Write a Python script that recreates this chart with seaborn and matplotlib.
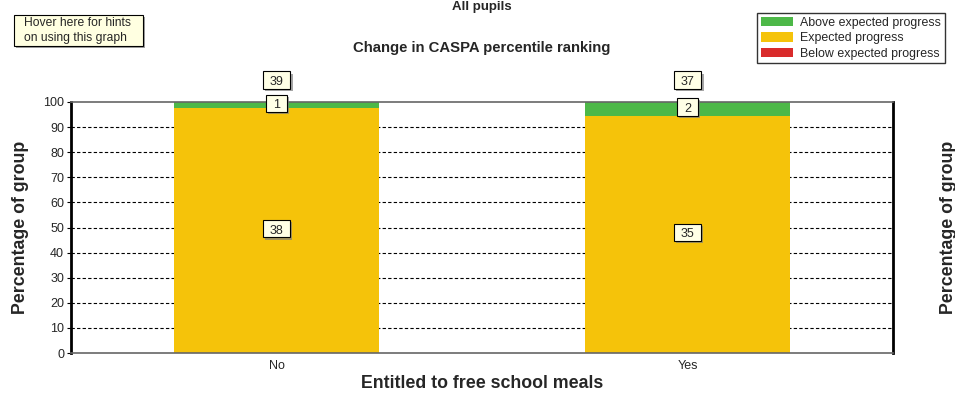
import matplotlib
matplotlib.use("Agg")
import matplotlib.pyplot as plt
import seaborn as sns
import pandas as pd
from matplotlib.patches import Patch, Rectangle
from matplotlib.path import Path
import matplotlib.patheffects as pe

categories = ["No", "Yes"]
above = [1, 2]
expected = [38, 35]
below = [0, 0]
series_names = ["Above expected progress", "Expected progress", "Below expected progress"]
colors = ["#4DB848", "#F5C30A", "#D92B2B"]

totals = [a + e + b for a, e, b in zip(above, expected, below)]
pct_above = [100 * a / t for a, t in zip(above, totals)]
pct_exp = [100 * e / t for e, t in zip(expected, totals)]
pct_below = [100 * b / t for b, t in zip(below, totals)]

df = pd.DataFrame({
    "cat": categories,
    "top": [pa + pe_ + pb for pa, pe_, pb in zip(pct_above, pct_exp, pct_below)],
    "mid": [pe_ + pb for pe_, pb in zip(pct_exp, pct_below)],
    "bot": pct_below,
})

sns.set_style("white")
plt.rcParams["font.family"] = ["Liberation Sans", "DejaVu Sans"]

W, H = 955, 393
fig = plt.figure(figsize=(W / 100, H / 100), dpi=100)
ax = fig.add_axes([71 / W, (H - 353) / H, (893 - 71) / W, (353 - 102) / H])

for col, c in zip(["top", "mid", "bot"], colors):
    sns.barplot(data=df, x="cat", y=col, color=c, width=0.5, ax=ax,
                saturation=1, linewidth=0, zorder=2)

ax.set_xlim(-0.5, 1.5)
ax.set_ylim(0, 100)
ax.set_yticks(range(0, 101, 10))
for y in range(10, 100, 10):
    ax.axhline(y, color="black", lw=0.8, ls=(0, (3, 2)), zorder=1)

ax.set_ylabel("Percentage of group", fontsize=12.8, fontweight="bold")
ax.yaxis.set_label_coords(-0.051, 0.5)
ax.set_xlabel("Entitled to free school meals", fontsize=12.8, fontweight="bold", labelpad=2)
ax.tick_params(axis="both", labelsize=9, length=3, width=0.8, color="black", pad=2, direction="out")
ax.tick_params(axis="x", length=2, color="#666666", pad=3)
ax.tick_params(axis="y", left=True, right=True, labelleft=True, labelright=True)

for side in ["top", "bottom"]:
    ax.spines[side].set_color("#666666")
    ax.spines[side].set_linewidth(1.2)
for side in ["left", "right"]:
    ax.spines[side].set_color("black")
    ax.spines[side].set_linewidth(2)

ax2 = ax.twinx()
ax2.set_ylim(0, 100)
ax2.set_yticks([])
ax2.set_ylabel("Percentage of group", fontsize=12.8, fontweight="bold")
ax2.yaxis.set_label_coords(1.057, 0.5)
for s in ax2.spines.values():
    s.set_visible(False)


def wide_box(x0, y0, width, height, mutation_size):
    px = 0.56 * mutation_size
    pt = 0.36 * mutation_size
    pb = 0.06 * mutation_size
    xa, ya = x0 - px, y0 - pb
    xb, yb = x0 + width + px, y0 + height + pt
    return Path([(xa, ya), (xb, ya), (xb, yb), (xa, yb), (xa, ya)], closed=True)


def label(i, y, s):
    t = ax.text(i, y, s, ha="center", va="center", fontsize=9, clip_on=False, zorder=5,
                bbox=dict(boxstyle=wide_box, facecolor="#FFFFE6", edgecolor="black", lw=0.8))
    t.get_bbox_patch().set_path_effects([
        pe.SimplePatchShadow(offset=(1.5, -1.5), shadow_rgbFace="#808080", alpha=0.7),
        pe.Normal()])


for i in range(len(categories)):
    label(i, 108, str(totals[i]))
    if above[i]:
        label(i, pct_exp[i] + pct_below[i] + pct_above[i] / 2, str(above[i]))
    if expected[i]:
        label(i, pct_below[i] + pct_exp[i] / 2, str(expected[i]))
    if below[i]:
        label(i, pct_below[i] / 2, str(below[i]))

fig.text(482 / W, 1 - 7 / H, "All pupils", ha="center", va="center", fontsize=9.5, fontweight="bold")
fig.text(482 / W, 1 - 48 / H, "Change in CASPA percentile ranking", ha="center", va="center",
         fontsize=10.7, fontweight="bold")

# hint box
fig.patches.append(Rectangle((16 / W, 1 - 48 / H), 129 / W, 31 / H, transform=fig.transFigure,
                             facecolor="#A0A0A0", edgecolor="none", zorder=1))
fig.patches.append(Rectangle((14 / W, 1 - 46 / H), 129 / W, 31 / H, transform=fig.transFigure,
                             facecolor="#FFFFE1", edgecolor="black", lw=0.8, zorder=2))
fig.text(24 / W, 1 - 22.5 / H, "Hover here for hints", ha="left", va="center", fontsize=8.7, zorder=3)
fig.text(24 / W, 1 - 38 / H, "on using this graph", ha="left", va="center", fontsize=8.7, zorder=3)

handles = [Patch(facecolor=c, edgecolor="none", label=n) for c, n in zip(colors, series_names)]
leg = fig.legend(handles=handles, loc="upper right", bbox_to_anchor=(945 / W, 1 - 13 / H), fontsize=8.9,
                 frameon=True, fancybox=False, borderpad=0.3, labelspacing=0.28,
                 handlelength=2.6, handleheight=0.8, handletextpad=0.6, borderaxespad=0)
leg.get_frame().set_edgecolor("black")
leg.get_frame().set_linewidth(1)

fig.savefig("out.png", dpi=100)
